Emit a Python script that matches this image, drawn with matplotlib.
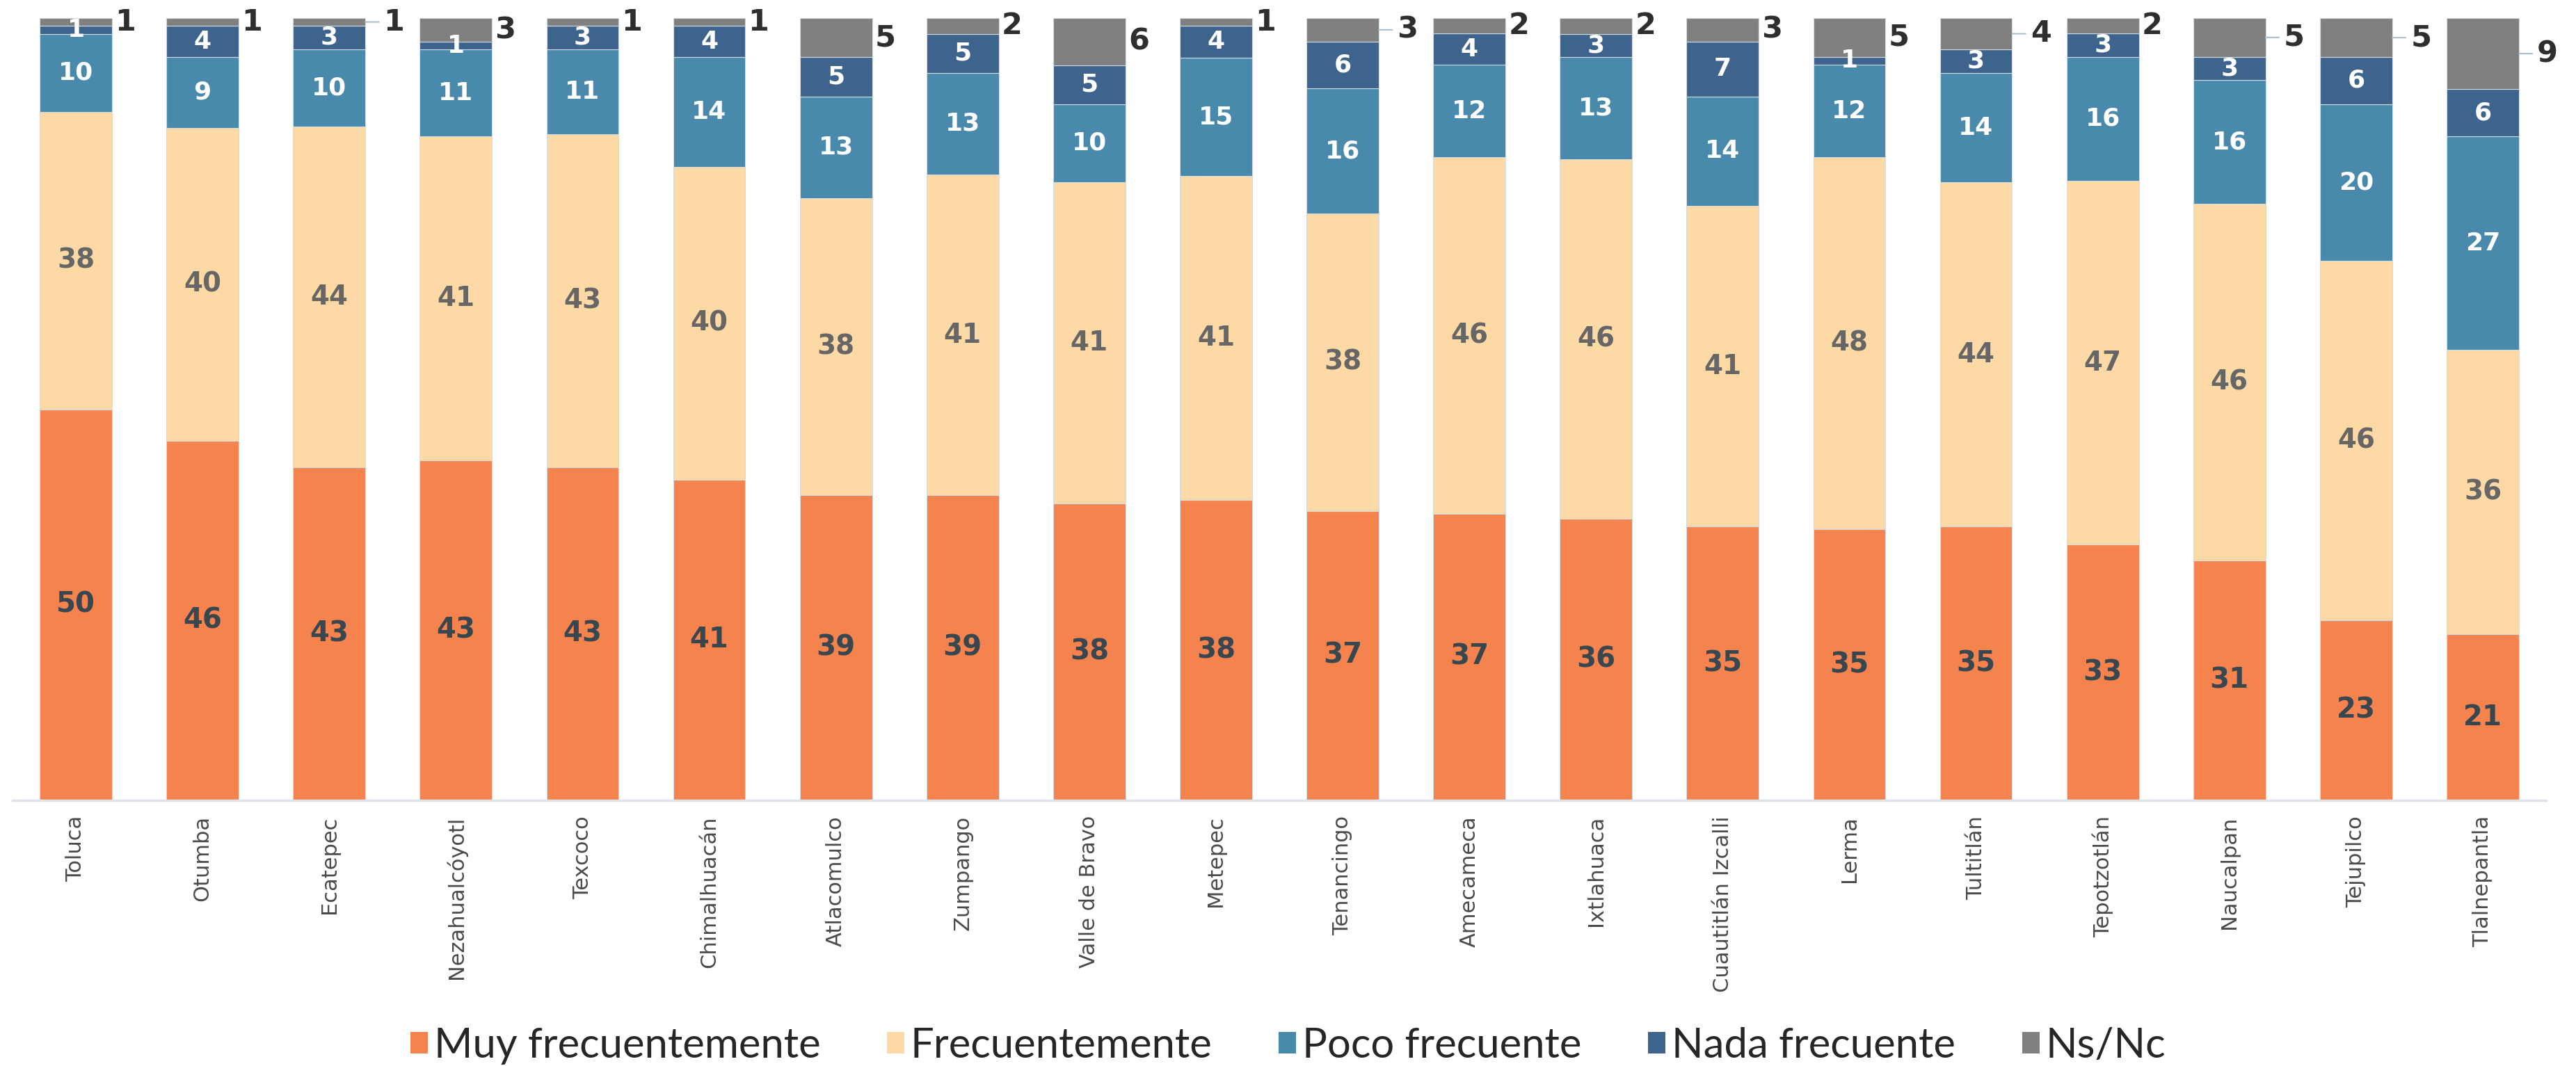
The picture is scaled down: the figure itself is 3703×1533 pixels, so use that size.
import matplotlib
matplotlib.use("Agg")
import matplotlib.pyplot as plt
from matplotlib.patches import Patch
from matplotlib.font_manager import FontProperties
import numpy as np

categories = ['Toluca', 'Otumba', 'Ecatepec', 'Nezahualcóyotl', 'Texcoco', 'Chimalhuacán',
              'Atlacomulco', 'Zumpango', 'Valle de Bravo', 'Metepec', 'Tenancingo', 'Amecameca',
              'Ixtlahuaca', 'Cuautitlán Izcalli', 'Lerma', 'Tultitlán', 'Tepotzotlán',
              'Naucalpan', 'Tejupilco', 'Tlalnepantla']
muy_frecuentemente = [50, 46, 43, 43, 43, 41, 39, 39, 38, 38, 37, 37, 36, 35, 35, 35, 33, 31, 23, 21]
frecuentemente = [38, 40, 44, 41, 43, 40, 38, 41, 41, 41, 38, 46, 46, 41, 48, 44, 47, 46, 46, 36]
poco_frecuente = [10, 9, 10, 11, 11, 14, 13, 13, 10, 15, 16, 12, 13, 14, 12, 14, 16, 16, 20, 27]
nada_frecuente = [1, 4, 3, 1, 3, 4, 5, 5, 5, 4, 6, 4, 3, 7, 1, 3, 3, 3, 6, 6]
ns_nc = [1, 1, 1, 3, 1, 1, 5, 2, 6, 1, 3, 2, 2, 3, 5, 4, 2, 5, 5, 9]
series_names = ['Muy frecuentemente', 'Frecuentemente', 'Poco frecuente', 'Nada frecuente', 'Ns/Nc']
leader_cats = ['Ecatepec', 'Tenancingo', 'Tultitlán', 'Naucalpan', 'Tejupilco', 'Tlalnepantla']

colors = ['#F4834D', '#FDD9A5', '#4889AC', '#3E638C', '#808080']
label_colors = ['#37464F', '#666666', 'white', 'white', '#2e2e2e']
label_sizes = [29, 28, 26, 26, 31]

data = np.array([muy_frecuentemente, frecuentemente, poco_frecuente, nada_frecuente, ns_nc], dtype=float)
totals = data.sum(axis=0)
pct = data / totals * 100.0  # 100% stacked

fig = plt.figure(figsize=(37.03, 15.33), dpi=100)
ax = fig.add_axes([18 / 3703, 1 - 1151 / 1533, (3660 - 18) / 3703, (1151 - 26) / 1533])

x = np.arange(len(categories))
width = 0.57
bottom = np.zeros(len(categories))
for k in range(5):
    ax.bar(x, pct[k], width, bottom=bottom, color=colors[k],
           edgecolor='#d3dbe2', linewidth=0.8, label=series_names[k])
    if k < 4:
        for i in range(len(categories)):
            ax.text(x[i], bottom[i] + pct[k][i] / 2, f"{int(data[k][i])}",
                    ha='center', va='center', fontsize=label_sizes[k], fontweight='bold',
                    color=label_colors[k], family='DejaVu Sans')
    else:
        for i in range(len(categories)):
            yc = bottom[i] + pct[k][i] / 2
            if categories[i] in leader_cats:
                ax.annotate(f"{int(data[k][i])}", xy=(x[i] + width / 2, yc), xytext=(19, 0),
                            textcoords='offset points', ha='left', va='center',
                            fontsize=label_sizes[k], fontweight='bold', color=label_colors[k],
                            arrowprops=dict(arrowstyle='-', color='#a9bfcd', lw=1.5,
                                            shrinkA=3, shrinkB=0))
            else:
                ax.annotate(f"{int(data[k][i])}", xy=(x[i] + width / 2, yc), xytext=(3, 0),
                            textcoords='offset points', ha='left', va='center',
                            fontsize=label_sizes[k], fontweight='bold', color=label_colors[k])
    bottom += pct[k]

ax.set_xlim(-0.5, len(categories) - 0.5)
ax.set_ylim(0, 100)
ax.set_yticks([])
ax.set_xticks(x)
ax.set_xticklabels(categories, rotation=90, fontsize=22, color='#4a4a4a', va='top')
ax.tick_params(axis='x', length=0, pad=16)
for s in ['top', 'right', 'left']:
    ax.spines[s].set_visible(False)
ax.spines['bottom'].set_color('#dde3e8')
ax.spines['bottom'].set_linewidth(2.5)

handles = [Patch(facecolor=colors[k], edgecolor='none') for k in range(5)]
legend_font = FontProperties(family=['Lato', 'DejaVu Sans'], weight='normal', size=43)
leg = fig.legend(handles, series_names, loc='center', bbox_to_anchor=(0.5, 0.019),
                 ncol=5, frameon=False, handlelength=0.42, handleheight=0.42,
                 handletextpad=0.15, columnspacing=1.6, prop=legend_font)
for t in leg.get_texts():
    t.set_color('#262626')

fig.savefig('out.png', dpi=100)
